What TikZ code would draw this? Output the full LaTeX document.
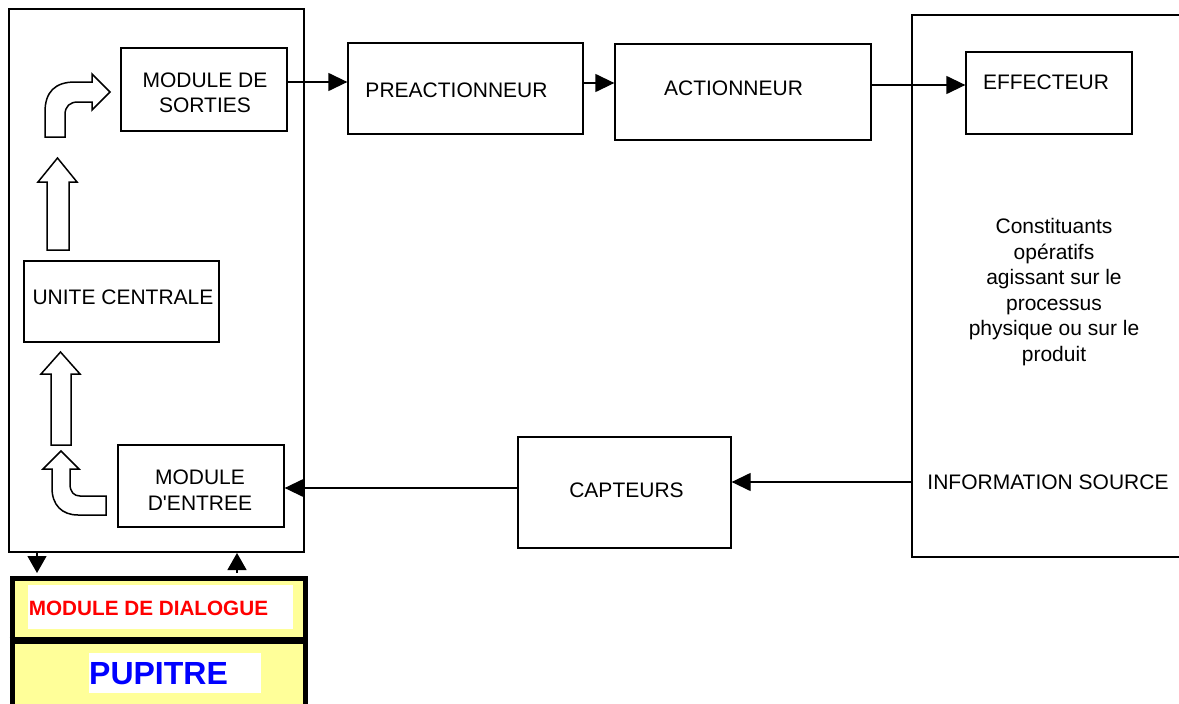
\documentclass[tikz,border=0pt]{standalone}
\usepackage{fontspec}
\setmainfont{Liberation Sans}
\usetikzlibrary{arrows.meta}
\definecolor{dlgyellow}{HTML}{FFFF99}
\begin{document}
\begin{tikzpicture}[x=1pt,y=-1pt,
  every node/.style={font=\fontsize{21}{25.5}\selectfont, inner sep=0pt},
  blk/.style={draw, line width=1.3pt, minimum width=#1},
  bigframe/.style={draw, line width=2pt},
  arr/.style={line width=1.3pt, -{Triangle[length=19pt,width=18pt]}},
  sarr/.style={line width=1.3pt, -{Triangle[length=17pt,width=19pt]}},
  blockarrow/.style={draw, line width=1.5pt, fill=white, line join=miter},
  lbl/.style={align=center}
]
\useasboundingbox (0,0) rectangle (1179,704);

% big left frame (control unit)
\node[bigframe, minimum width=295pt, minimum height=543pt] (ctrl) at (156.5,280.5) {};

% right frame (operative part)
\draw[line width=2pt] (1185,15) -- (912,15) -- (912,557) -- (1185,557);
\coordinate (infosrc) at (912,482);

% boxes
\node[blk=166pt, minimum height=83pt] (sorties) at (204,89.5) {};
\node[lbl] (tsorties) at (205,93) {MODULE DE\\SORTIES};

\node[blk=235pt, minimum height=91pt] (preact) at (465.5,88.5) {};
\node (tpreact) at (456.5,90) {PREACTIONNEUR};

\node[blk=256pt, minimum height=96pt] (act) at (743,92) {};
\node (tact) at (733.5,88) {ACTIONNEUR};

\node[blk=166pt, minimum height=82pt] (eff) at (1049,93) {};
\node (teff) at (1046,82.5) {EFFECTEUR};

\node[blk=195pt, minimum height=81pt] (uc) at (121.5,301.5) {};
\node (tuc) at (123,297) {UNITE CENTRALE};

\node[blk=166pt, minimum height=82pt] (entree) at (201,486) {};
\node[lbl] (tentree) at (200,490) {MODULE\\D\textquotesingle ENTREE};

\node[blk=213pt, minimum height=111pt] (capt) at (624.5,492.5) {};
\node (tcapt) at (626.5,490) {CAPTEURS};

\node[lbl] (tconst) at (1054,292) {Constituants\\op\'eratifs\\agissant sur le\\processus\\physique ou sur le\\produit};
\node (tinfo) at (1048,482) {INFORMATION SOURCE};

% dialogue panel
\node[draw, line width=5pt, fill=dlgyellow, minimum width=293pt, minimum height=142pt] (dlg) at (158.5,649) {};
\draw[line width=7pt] (dlg.west |- 0,640) -- (dlg.east |- 0,640);
\node[fill=white, minimum width=265pt, minimum height=44pt] (wdlg) at (160.5,607) {};
\node[font=\bfseries\fontsize{20.7}{24}\selectfont, text=red] (tdlg) at (148.5,608) {MODULE DE DIALOGUE};
\node[fill=white, minimum width=172pt, minimum height=40pt] (wpup) at (175,673) {};
\node[font=\bfseries\fontsize{32}{36}\selectfont, text=blue] (tpup) at (158.5,674) {PUPITRE};

% connectors
\draw[arr] ([yshift=7.5pt]sorties.east) -- ([yshift=7.5pt]sorties.east -| preact.west);
\draw[arr] ([yshift=5.5pt]preact.east) -- ([yshift=5.5pt]preact.east -| act.west);
\draw[arr] ([yshift=7pt]act.east) -- ([yshift=7pt]act.east -| eff.west);
\draw[arr] (infosrc) -- (infosrc -| capt.east);
\draw[arr] ([yshift=4.5pt]capt.west) -- ([yshift=4.5pt]capt.west -| entree.east);
\coordinate (dn) at (37,0);
\coordinate (up) at (237,0);
\draw[sarr] (dn |- ctrl.south) -- ([yshift=2.5pt]dn |- dlg.north);
\draw[sarr] ([yshift=2.5pt]up |- dlg.north) -- (up |- ctrl.south);

% hollow block arrows
\draw[blockarrow] (45,137) -- (45,112) .. controls (45,92) and (55,82) .. (75,82) -- (92,82) -- (92,74) -- (110,92) -- (92,110) -- (92,102) -- (78,102) .. controls (70,102) and (65,106) .. (65,115) -- (65,137) -- cycle;
\draw[blockarrow] (47,250) -- (47,182) -- (38,182) -- (57.5,158) -- (77,182) -- (69,182) -- (69,250) -- cycle;
\draw[blockarrow] (51,445) -- (51,374) -- (41,374) -- (60.5,352) -- (80,374) -- (71,374) -- (71,445) -- cycle;
\draw[blockarrow] (52,469) -- (52,488) .. controls (52,505) and (62,515) .. (78,515) -- (106,515) -- (106,496) -- (80,496) .. controls (74,496) and (70,492) .. (70,484) -- (70,469) -- (79,469) -- (61,451) -- (43,469) -- cycle;
\end{tikzpicture}
\end{document}
